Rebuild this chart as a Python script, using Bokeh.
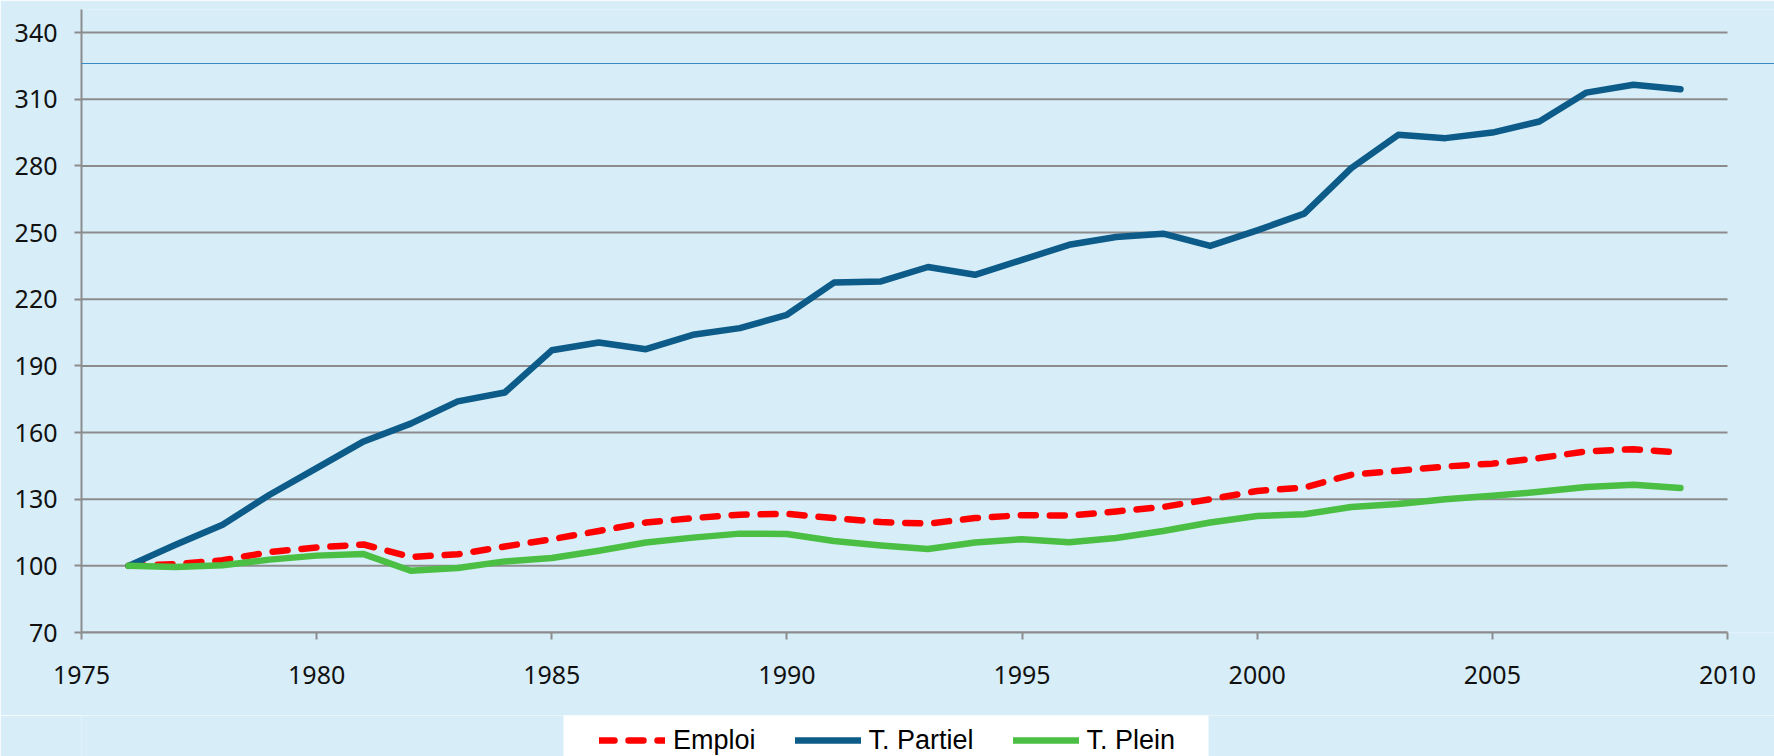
from bokeh.plotting import figure
from bokeh.layouts import column
from bokeh.models import Range1d, FixedTicker, Legend, LegendItem, BoxAnnotation
from bokeh.embed import file_html
from bokeh.resources import INLINE

years = list(range(1976, 2010))
emploi = [100, 100.8, 102.5, 106.2, 108.3, 109.6, 104, 105.2, 108.7, 112,
          115.7, 119.5, 121.5, 123, 123.4, 121.5, 119.7, 119, 121.5, 122.8,
          122.6, 124.5, 126.5, 130, 133.7, 135.2, 141, 142.8, 144.7, 146,
          148.5, 151.5, 152.5, 151]
partiel = [100, 109.5, 118.5, 132, 144, 156, 164, 174, 178, 197,
           200.5, 197.5, 204, 207, 213, 227.5, 228, 234.5, 231, 237.7,
           244.5, 248, 249.5, 244, 251, 258.5, 279, 294, 292.5, 295,
           300, 313, 316.5, 314.5]
plein = [100, 99.5, 100.3, 102.8, 104.6, 105.3, 97.8, 99, 102, 103.5,
         106.8, 110.5, 112.7, 114.5, 114.3, 111.2, 109.2, 107.6, 110.5, 112,
         110.6, 112.5, 115.7, 119.5, 122.4, 123.2, 126.5, 127.8, 130, 131.5,
         133.3, 135.5, 136.5, 135]
series_names = ["Emploi", "T. Partiel", "T. Plein"]
x_ticks = [1975, 1980, 1985, 1990, 1995, 2000, 2005, 2010]
y_ticks = [70, 100, 130, 160, 190, 220, 250, 280, 310, 340]

BG = "#d7eef9"
GRID = "#8c8c8c"
FONT = "Noto Sans"
STYLES = [dict(line_color="#ff0000", line_dash="15 14"),
          dict(line_color="#0d5b88"),
          dict(line_color="#4bbf43")]

# layout (pixels)
W, H_CHART, H_KEY = 1774, 715, 41
LEFT, AXIS_RIGHT, TOP, BOTTOM = 81, 1727, 9, 632
x_end = x_ticks[0] + (x_ticks[-1] - x_ticks[0]) * (W - LEFT) / (AXIS_RIGHT - LEFT)

chart = figure(width=W, height=H_CHART, output_backend="svg", toolbar_location=None,
               x_range=Range1d(x_ticks[0], x_end), y_range=Range1d(70, 350.4),
               min_border_left=LEFT, min_border_right=0, min_border_top=TOP,
               min_border_bottom=H_CHART - BOTTOM, background_fill_color=BG,
               border_fill_color=BG, outline_line_color=None)

for ax in (chart.xaxis[0], chart.yaxis[0]):
    ax.axis_line_color = GRID
    ax.axis_line_width = 2
    ax.major_tick_line_color = GRID
    ax.major_tick_line_width = 2
    ax.major_tick_in = 0
    ax.major_tick_out = 7
    ax.minor_tick_line_color = None
    ax.major_label_text_font = FONT
    ax.major_label_text_font_size = "25px"
    ax.major_label_text_color = "#111111"

chart.xaxis.ticker = FixedTicker(ticks=x_ticks)
chart.xaxis.bounds = (x_ticks[0], x_ticks[-1])
chart.yaxis.ticker = FixedTicker(ticks=y_ticks)
chart.xaxis.major_label_standoff = 26
chart.yaxis.major_label_standoff = 17
chart.xgrid.visible = False
chart.ygrid.visible = False

# horizontal grid lines stop at the last year tick
chart.segment(x0=x_ticks[0], x1=x_ticks[-1], y0=y_ticks, y1=y_ticks,
              line_color=GRID, line_width=2)

# thin rule across the top of the page
top_rule = BoxAnnotation(left=-200, right=2000, top=569.5, bottom=568.5,
                         left_units="screen", right_units="screen",
                         top_units="screen", bottom_units="screen",
                         fill_color="#3d8bc4", fill_alpha=1, line_alpha=0)
chart.add_layout(top_rule)

for ys, st in zip([emploi, partiel, plein], STYLES):
    chart.line(years, ys, line_width=6.5, line_cap="round", line_join="round", **st)

# legend strip under the chart (its frame is aligned with the chart frame)
key = figure(width=W, height=H_KEY, output_backend="svg", toolbar_location=None,
             x_range=Range1d(0, 1), y_range=Range1d(0, 1),
             x_axis_location=None, y_axis_location=None,
             min_border_left=0, min_border_right=0, min_border_top=0,
             min_border_bottom=0, background_fill_color=BG,
             border_fill_color=BG, outline_line_color=None)
key.xgrid.visible = False
key.ygrid.visible = False

key_box = BoxAnnotation(left=563 - LEFT, right=1208 - LEFT, top=60, bottom=-20,
                        left_units="screen", right_units="screen",
                        top_units="screen", bottom_units="screen",
                        fill_color="white", fill_alpha=1, line_alpha=0)
key.add_layout(key_box)

# same series, outside this strip's ranges: only their legend swatches show
swatches = [key.line(years, ys, line_width=6.5, line_cap="round", **st)
            for ys, st in zip([emploi, partiel, plein], STYLES)]

legend = Legend(items=[LegendItem(label=n, renderers=[r])
                       for n, r in zip(series_names, swatches)],
                orientation="horizontal", location=(599 - LEFT, 0),
                glyph_width=66, glyph_height=32, label_height=32,
                label_standoff=8, spacing=39, padding=0, margin=0,
                background_fill_alpha=0, border_line_alpha=0,
                label_text_font="Liberation Sans",
                label_text_font_size="27px", label_text_color="#000000")
key.add_layout(legend)

p = column(chart, key, spacing=0)

open("out.html", "w").write(file_html(p, INLINE))
